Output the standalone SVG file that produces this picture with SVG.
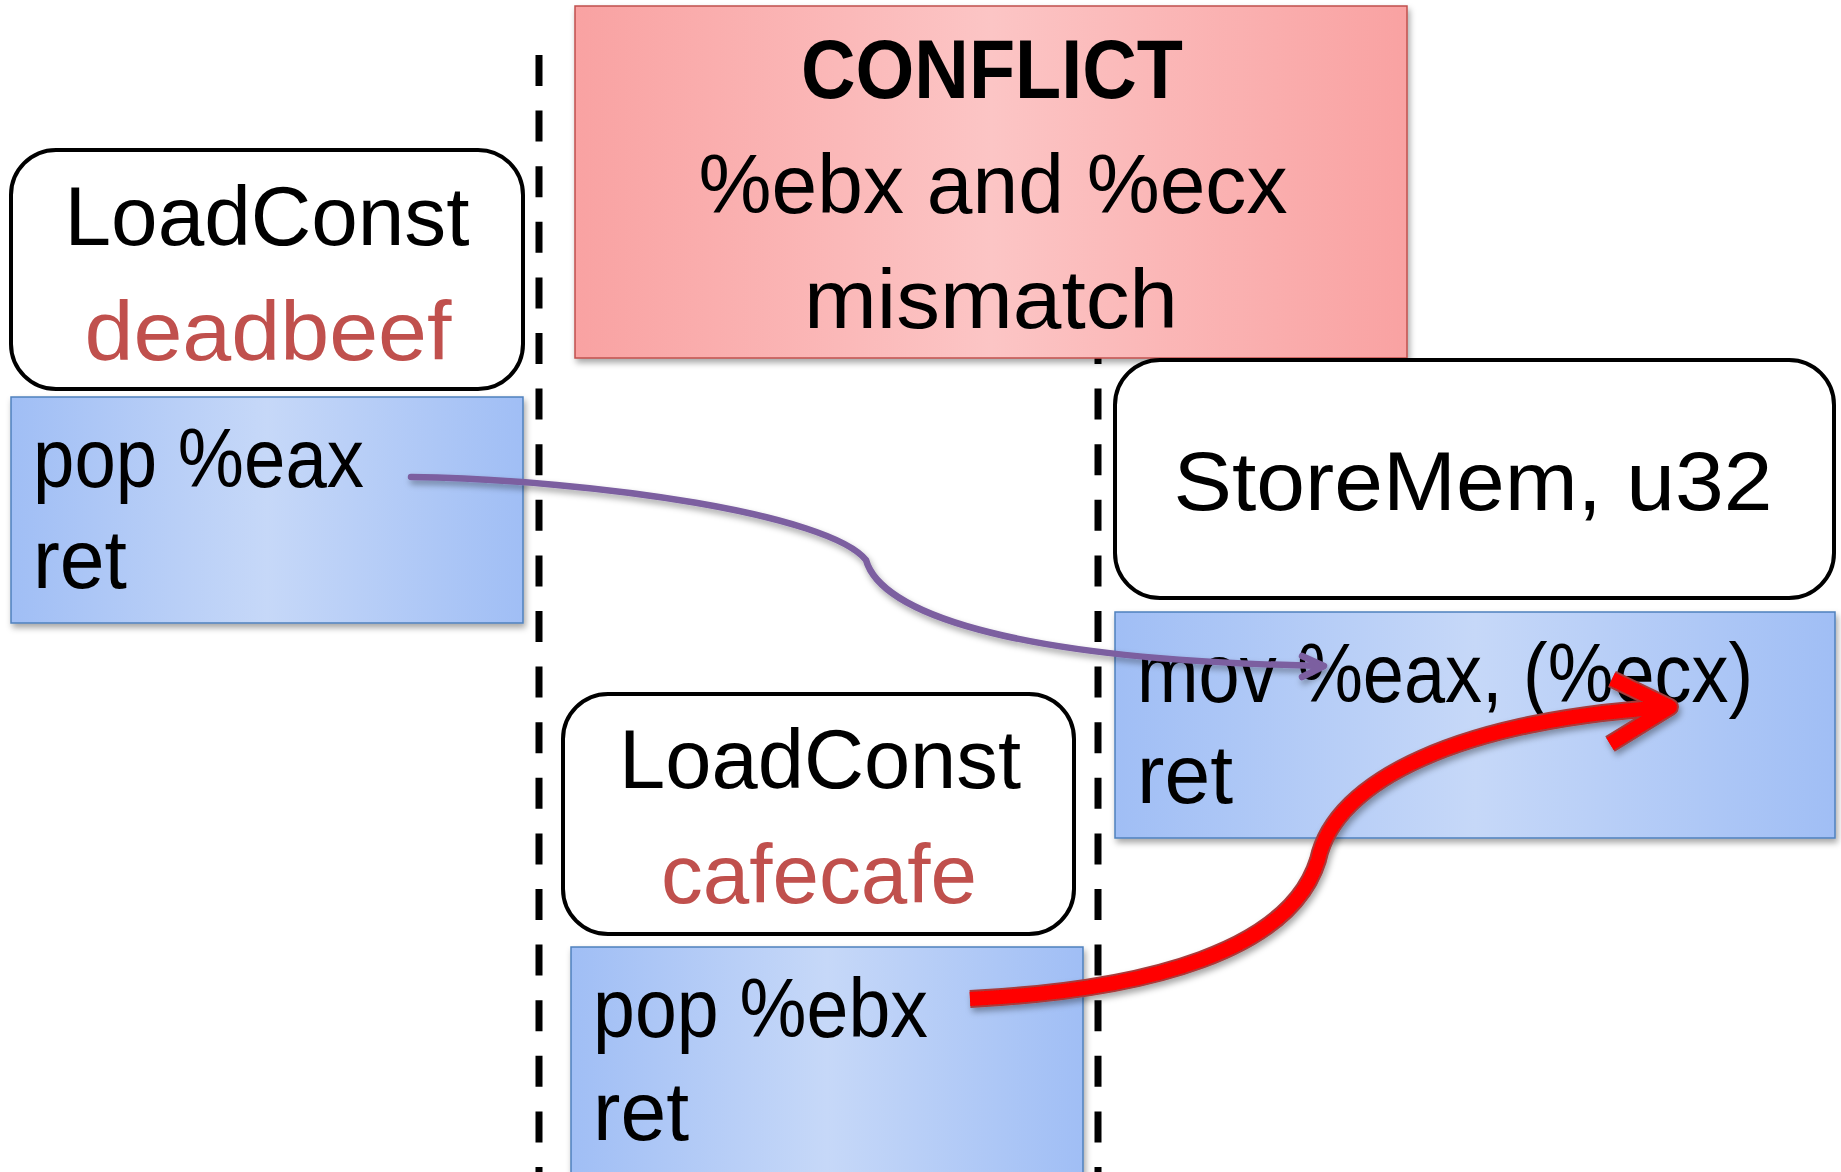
<svg xmlns="http://www.w3.org/2000/svg" width="1841" height="1172" viewBox="0 0 1841 1172">
<defs>
<linearGradient id="gBlue" x1="0" y1="0" x2="1" y2="0">
<stop offset="0" stop-color="#A0BEF5"/>
<stop offset="0.5" stop-color="#C6D8F8"/>
<stop offset="1" stop-color="#A0BEF5"/>
</linearGradient>
<linearGradient id="gRed" x1="0" y1="0" x2="1" y2="0">
<stop offset="0" stop-color="#F9A2A2"/>
<stop offset="0.5" stop-color="#FCC5C5"/>
<stop offset="1" stop-color="#F9A2A2"/>
</linearGradient>
<filter id="shadow" x="-10%" y="-10%" width="120%" height="130%">
<feDropShadow dx="2" dy="4" stdDeviation="3" flood-color="#000" flood-opacity="0.35"/>
</filter>
</defs>
<style>
.t{font-family:"Liberation Sans",Arial,sans-serif;font-size:84px;fill:#000}
.c{text-anchor:middle}
.val{fill:#C0504D}
.b{font-weight:bold}
.op{fill:#fff;stroke:#000;stroke-width:4}
.gad{fill:url(#gBlue);stroke:#4F81BD;stroke-width:1.5;filter:url(#shadow)}
.dash{stroke:#000;stroke-width:7;stroke-dasharray:31 24.6;fill:none}
.purple{fill:none;stroke:#7B5FA0;stroke-width:6.5;stroke-linecap:round;stroke-linejoin:round}
.redo{fill:none;stroke:#A83A3A;stroke-width:18;stroke-linecap:butt;stroke-linejoin:round}
.red{fill:none;stroke:#FF0000;stroke-width:14;stroke-linecap:butt;stroke-linejoin:round}
</style>
<rect width="1841" height="1172" fill="#fff"/>
<g id="separators">
<line class="dash" x1="539" y1="55" x2="539" y2="1172"/>
<line class="dash" x1="1098" y1="55" x2="1098" y2="1172"/>
</g>
<g id="conflict">
<rect x="575" y="6" width="832" height="352" fill="url(#gRed)" stroke="#C0504D" stroke-width="1.5" filter="url(#shadow)"/>
<text class="t c b" x="992" y="98" textLength="382" lengthAdjust="spacingAndGlyphs">CONFLICT</text>
<text class="t c" x="993" y="213" textLength="589" lengthAdjust="spacingAndGlyphs">%ebx and %ecx</text>
<text class="t c" x="991" y="328" textLength="374" lengthAdjust="spacingAndGlyphs">mismatch</text>
</g>
<g id="loadconst-deadbeef">
<rect class="op" x="11" y="150" width="512" height="239" rx="45"/>
<text class="t c" x="267" y="245" textLength="405" lengthAdjust="spacingAndGlyphs">LoadConst</text>
<text class="t c val" x="268" y="360" textLength="367" lengthAdjust="spacingAndGlyphs">deadbeef</text>
</g>
<g id="gadget-pop-eax">
<rect class="gad" x="11" y="397" width="512" height="226"/>
<text class="t" x="33" y="487" textLength="331" lengthAdjust="spacingAndGlyphs">pop %eax</text>
<text class="t" x="33" y="588" textLength="94" lengthAdjust="spacingAndGlyphs">ret</text>
</g>
<g id="storemem">
<rect class="op" x="1115" y="360" width="719" height="238" rx="45"/>
<text class="t c" x="1473" y="510" textLength="599" lengthAdjust="spacingAndGlyphs">StoreMem, u32</text>
</g>
<g id="gadget-mov">
<rect class="gad" x="1115" y="612" width="720" height="226"/>
<text class="t" x="1137" y="702" textLength="616" lengthAdjust="spacingAndGlyphs">mov %eax, (%ecx)</text>
<text class="t" x="1137" y="803" textLength="96" lengthAdjust="spacingAndGlyphs">ret</text>
</g>
<g id="loadconst-cafecafe">
<rect class="op" x="563" y="694" width="511" height="240" rx="45"/>
<text class="t c" x="820" y="788" textLength="402" lengthAdjust="spacingAndGlyphs">LoadConst</text>
<text class="t c val" x="819" y="903" textLength="316" lengthAdjust="spacingAndGlyphs">cafecafe</text>
</g>
<g id="gadget-pop-ebx">
<rect class="gad" x="571" y="947" width="512" height="240"/>
<text class="t" x="593" y="1037" textLength="335" lengthAdjust="spacingAndGlyphs">pop %ebx</text>
<text class="t" x="593" y="1140" textLength="96" lengthAdjust="spacingAndGlyphs">ret</text>
</g>
<g id="connectors">
<g filter="url(#shadow)">
<path class="purple" d="M411,477 C600,480 830,515 866,560 C880,610 1000,660 1323,666"/>
<path class="purple" d="M1302,656 L1324,666 L1302,677"/>
</g>
<g filter="url(#shadow)">
<path class="redo" d="M970,999 C1150,990 1290,950 1318,860 C1335,780 1460,720 1670,707"/>
<path class="redo" d="M1612,679 L1670,707 L1610,744"/>
<path class="red" d="M970,999 C1150,990 1290,950 1318,860 C1335,780 1460,720 1670,707"/>
<path class="red" d="M1612,679 L1670,707 L1610,744"/>
</g>
</g>
</svg>
